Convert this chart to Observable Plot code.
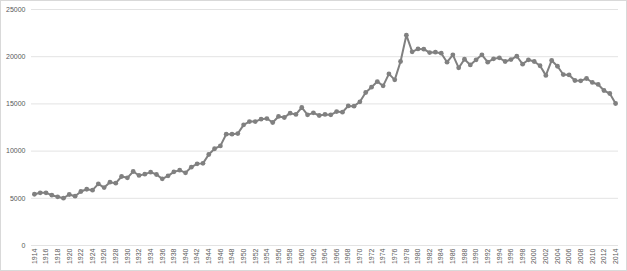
<!DOCTYPE html>
<html>
<head>
<meta charset="utf-8">
<script src="https://cdn.jsdelivr.net/npm/d3@7"></script>
<script src="https://cdn.jsdelivr.net/npm/@observablehq/plot@0.6"></script>
<style>
  html, body { margin: 0; padding: 0; background: #fff; }
  #wrap { position: relative; width: 627px; height: 271px; }
  #frame { position: absolute; left: 0; top: 0; width: 627px; height: 271px; box-sizing: border-box; border: 1px solid #d9d9d9; pointer-events: none; }
</style>
</head>
<body>
<div id="wrap"><div id="frame"></div></div>
<script>
const years = [1914,1915,1916,1917,1918,1919,1920,1921,1922,1923,1924,1925,1926,1927,1928,1929,
  1930,1931,1932,1933,1934,1935,1936,1937,1938,1939,1940,1941,1942,1943,1944,1945,1946,1947,1948,1949,
  1950,1951,1952,1953,1954,1955,1956,1957,1958,1959,1960,1961,1962,1963,1964,1965,1966,1967,1968,1969,
  1970,1971,1972,1973,1974,1975,1976,1977,1978,1979,1980,1981,1982,1983,1984,1985,1986,1987,1988,1989,
  1990,1991,1992,1993,1994,1995,1996,1997,1998,1999,2000,2001,2002,2003,2004,2005,2006,2007,2008,2009,
  2010,2011,2012,2013,2014];
const values = [5430,5580,5580,5330,5160,5010,5400,5220,5720,5960,5860,6530,6140,6710,6600,7310,
  7170,7840,7420,7560,7770,7520,7060,7380,7800,7980,7700,8300,8650,8700,9640,10250,10550,11790,11790,11860,
  12780,13130,13130,13380,13450,13030,13670,13560,14020,13880,14620,13840,14050,13770,13880,13840,14190,14120,14790,14760,
  15220,16210,16770,17370,16910,18180,17550,19490,22280,20520,20820,20800,20440,20480,20370,19420,20200,18820,19730,19130,
  19670,20200,19420,19770,19880,19490,19700,20050,19210,19670,19490,19040,18020,19600,18990,18110,18070,17480,17440,17690,
  17270,17060,16420,16100,15040];
const yTicks = [0,5000,10000,15000,20000,25000];
const xTickLabels = [1914,1916,1918,1920,1922,1924,1926,1928,1930,1932,1934,1936,1938,1940,1942,1944,1946,1948,
  1950,1952,1954,1956,1958,1960,1962,1964,1966,1968,1970,1972,1974,1976,1978,1980,1982,1984,1986,1988,
  1990,1992,1994,1996,1998,2000,2002,2004,2006,2008,2010,2012,2014];

const data = years.map((y, i) => ({year: y, value: values[i]}));
const color = "#808080";

const chart = Plot.plot({
  width: 627,
  height: 271,
  marginLeft: 31,
  marginRight: 9,
  marginTop: 9,
  marginBottom: 26,
  style: {fontFamily: "'Liberation Sans', Arial, sans-serif", fontSize: "7px", color: "#595959", background: "transparent"},
  x: {type: "point", domain: years, padding: 0.5, align: 0.5},
  y: {domain: [0, 25000]},
  marks: [
    Plot.ruleY(yTicks, {stroke: "#e3e3e3", strokeWidth: 1}),
    Plot.axisY({ticks: yTicks, tickSize: 0, tickPadding: 6, tickFormat: d => `${d}`, label: null, fill: "#595959"}),
    Plot.axisX({ticks: xTickLabels, tickSize: 0, tickPadding: 3, tickRotate: -90, tickFormat: d => `${d}`, label: null, fill: "#595959"}),
    Plot.line(data, {x: "year", y: "value", stroke: color, strokeWidth: 2}),
    Plot.dot(data, {x: "year", y: "value", fill: color, r: 2.4, stroke: "none"})
  ]
});
document.getElementById("wrap").prepend(chart);
</script>
</body>
</html>
